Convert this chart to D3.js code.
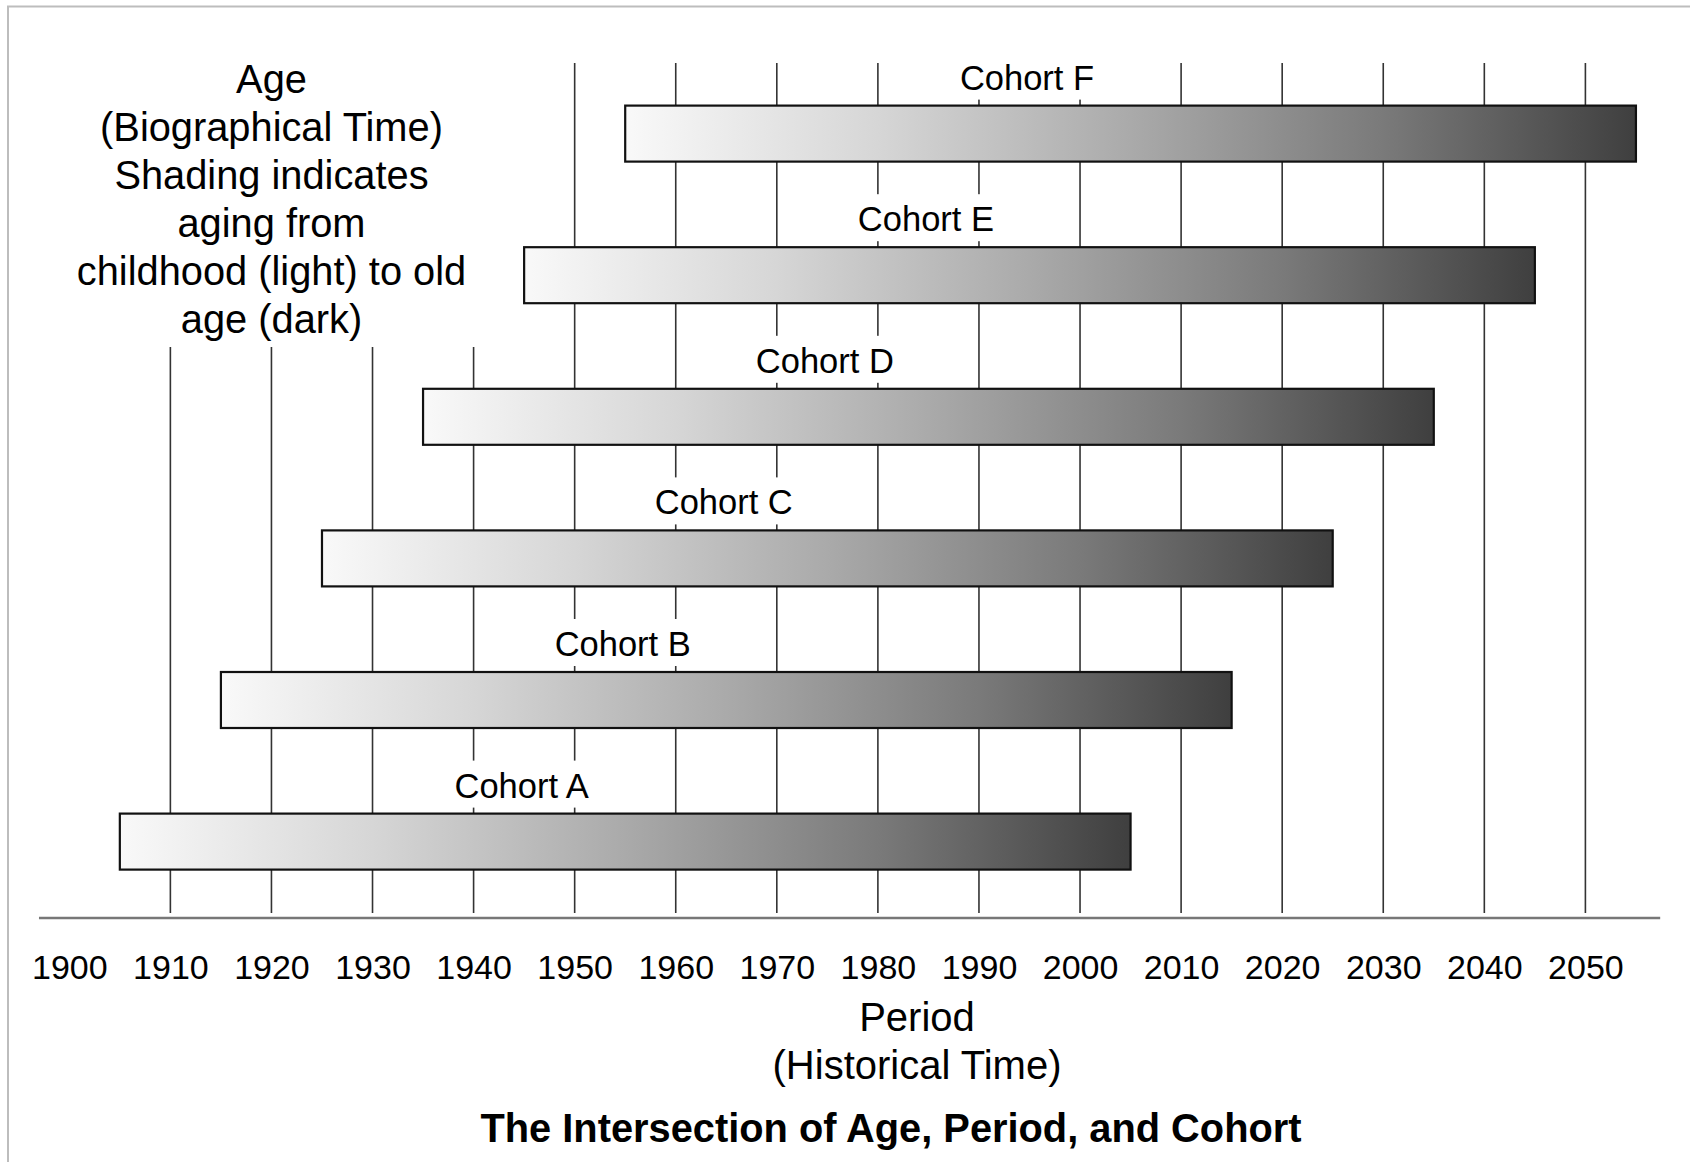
<!DOCTYPE html>
<html>
<head>
<meta charset="utf-8">
<script src="https://cdn.jsdelivr.net/npm/d3@7"></script>
<style>
  html, body { margin: 0; padding: 0; background: #fff; }
  svg { display: block; }
  text { font-family: "Liberation Sans", Arial, Helvetica, sans-serif; fill: #000; }
</style>
</head>
<body>
<svg id="chart" width="1690" height="1162"></svg>
<script>
// ---- data ----
const cohorts = ["Cohort A", "Cohort B", "Cohort C", "Cohort D", "Cohort E", "Cohort F"];
const birthYears = [1905, 1915, 1925, 1935, 1945, 1955];
const endYears = [2005, 2015, 2025, 2035, 2045, 2055];
const labelYears = [1945, 1955, 1965, 1975, 1985, 1995];
const tickYears = [1900, 1910, 1920, 1930, 1940, 1950, 1960, 1970, 1980, 1990, 2000, 2010, 2020, 2030, 2040, 2050];
const gridYears = [1910, 1920, 1930, 1940, 1950, 1960, 1970, 1980, 1990, 2000, 2010, 2020, 2030, 2040, 2050];
const ageText = ["Age", "(Biographical Time)", "Shading indicates", "aging from", "childhood (light) to old", "age (dark)"];
const xTitle = ["Period", "(Historical Time)"];
const chartTitle = "The Intersection of Age, Period, and Cohort";

// ---- layout ----
const svg = d3.select("#chart");
const x = d3.scaleLinear().domain([1900, 2050]).range([69.3, 1585.4]);
const y = d3.scaleBand()
  .domain(cohorts.slice().reverse())
  .range([105.6, 869.6])
  .paddingInner(0.6045)
  .paddingOuter(0)
  .align(0);
const axisY = 918;
const gridTop = 63, gridBottom = 913;

// frame
svg.append("rect")
  .attr("x", 8).attr("y", 6.5).attr("width", 1760).attr("height", 1300)
  .attr("fill", "#fff").attr("stroke", "#bdbdbd").attr("stroke-width", 2);

// gradient
const defs = svg.append("defs");
const grad = defs.append("linearGradient").attr("id", "ageGrad")
  .attr("x1", "0%").attr("x2", "100%").attr("y1", "0%").attr("y2", "0%");
[[0, "#f9f9f9"], [0.25, "#d6d6d6"], [0.5, "#aaaaaa"], [0.75, "#7a7a7a"], [1, "#3f3f3f"]]
  .forEach(([o, c]) => grad.append("stop").attr("offset", o).attr("stop-color", c));

// gridlines
svg.append("g").selectAll("line").data(gridYears).join("line")
  .attr("x1", d => x(d)).attr("x2", d => x(d))
  .attr("y1", gridTop).attr("y2", gridBottom)
  .attr("stroke", "#333").attr("stroke-width", 1.6);

// white block behind age text
svg.append("rect")
  .attr("x", 60).attr("y", 40).attr("width", 440).attr("height", 307)
  .attr("fill", "#fff");

// age text
svg.append("g").selectAll("text").data(ageText).join("text")
  .attr("x", 271.5)
  .attr("y", (d, i) => 93 + i * 48)
  .attr("text-anchor", "middle")
  .attr("font-size", 39.8)
  .text(d => d);

// cohort label boxes + labels
const lbl = svg.append("g").selectAll("g").data(cohorts).join("g");
lbl.each(function (d, i) {
  const g = d3.select(this);
  const top = y(d);
  const t = g.append("text")
    .attr("x", x(labelYears[i]) - 2.5)
    .attr("y", top - 16)
    .attr("text-anchor", "middle")
    .attr("font-size", 34.5)
    .text(d);
  const bb = t.node().getBBox();
  g.insert("rect", "text")
    .attr("x", bb.x - 5).attr("width", bb.width + 10)
    .attr("y", top - 53).attr("height", 47)
    .attr("fill", "#fff");
});

// bars
svg.append("g").selectAll("rect").data(cohorts).join("rect")
  .attr("x", (d, i) => x(birthYears[i]))
  .attr("width", (d, i) => x(endYears[i]) - x(birthYears[i]))
  .attr("y", d => y(d))
  .attr("height", y.bandwidth())
  .attr("fill", "url(#ageGrad)")
  .attr("stroke", "#111").attr("stroke-width", 2.2);

// axis line
svg.append("line")
  .attr("x1", x(1897)).attr("x2", x(2057.4))
  .attr("y1", axisY).attr("y2", axisY)
  .attr("stroke", "#777").attr("stroke-width", 2.5);

// tick labels via axis
const axis = d3.axisBottom(x).tickValues(tickYears).tickFormat(d3.format("d")).tickSize(0).tickPadding(0);
const ag = svg.append("g").attr("transform", `translate(0,${axisY})`).call(axis);
ag.select(".domain").remove();
ag.selectAll("text")
  .attr("dy", null)
  .attr("y", 979 - axisY)
  .attr("font-size", 34)
  .attr("font-family", "\"Liberation Sans\", Arial, Helvetica, sans-serif")
  .attr("fill", "#000");

// x title
svg.append("g").selectAll("text").data(xTitle).join("text")
  .attr("x", 917)
  .attr("y", (d, i) => 1031 + i * 48)
  .attr("text-anchor", "middle")
  .attr("font-size", 40)
  .text(d => d);

// chart title
svg.append("text")
  .attr("x", 891).attr("y", 1142)
  .attr("text-anchor", "middle")
  .attr("font-size", 39.8)
  .attr("font-weight", "bold")
  .text(chartTitle);
</script>
</body>
</html>
